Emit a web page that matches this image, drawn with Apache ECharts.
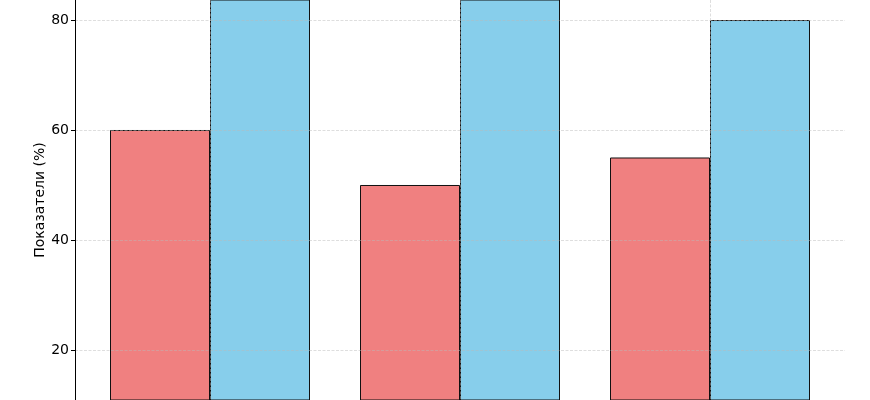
<!DOCTYPE html>
<html>
<head>
<meta charset="utf-8">
<script src="https://cdn.jsdelivr.net/npm/echarts@6/dist/echarts.min.js"></script>
<style>
  html, body { margin: 0; padding: 0; background: #fff; }
  #chart { width: 870px; height: 400px; }
</style>
</head>
<body>
<div id="chart"></div>
<script>
  // group positions on the x axis (0, 1, 2) and values per group
  var categories = ['Группа 1', 'Группа 2', 'Группа 3']
  var redValues = [60, 50, 55]
  var blueValues = [85, 90, 80]
  var yTicks = [20, 40, 60, 80]

  var chart = echarts.init(document.getElementById('chart'))

  var gridLine = {
    show: true,
    lineStyle: { color: 'rgba(185,185,185,0.6)', type: [3, 1.5], width: 0.8 },
    showMinLine: false,
    showMaxLine: false,
  }

  var option = {
    backgroundColor: '#fff',
    animation: false,
    textStyle: { fontFamily: 'DejaVu Sans' },
    grid: { left: 75, right: 25, top: 0, bottom: 0, outerBoundsMode: 'none', containLabel: false },
    xAxis: {
      type: 'value',
      min: -0.54,
      max: 2.54,
      splitNumber: 3,
      z: 3,
      axisLine: { show: false },
      axisTick: { show: false },
      axisLabel: {
        show: false,
        formatter: function (v) { return categories[v] || '' },
      },
      splitLine: gridLine,
    },
    yAxis: {
      type: 'value',
      min: 10.9,
      max: 83.64,
      splitNumber: 4,
      z: 3,
      name: 'Показатели (%)',
      nameLocation: 'middle',
      nameGap: 28,
      nameMoveOverlap: false,
      nameTextStyle: { fontSize: 14, color: '#000', fontFamily: 'DejaVu Sans' },
      axisLine: { show: true, onZero: false, lineStyle: { color: '#000', width: 1 } },
      axisTick: { show: true, inside: false, length: 4, lineStyle: { color: '#000' } },
      axisLabel: {
        fontSize: 14,
        color: '#000',
        margin: 6,
        showMinLabel: false,
        showMaxLabel: false,
        formatter: function (v) { return yTicks.indexOf(v) >= 0 ? String(v) : '' },
      },
      splitLine: gridLine,
    },
    series: [
      {
        name: 'red',
        type: 'bar',
        barWidth: 100,
        barGap: '0%',
        data: redValues.map(function (v, i) { return [i, v] }),
        itemStyle: { color: '#F08080', borderColor: '#111', borderWidth: 1 },
      },
      {
        name: 'blue',
        type: 'bar',
        barWidth: 100,
        barGap: '0%',
        data: blueValues.map(function (v, i) { return [i, v] }),
        itemStyle: { color: '#87CEEB', borderColor: '#111', borderWidth: 1 },
      },
    ],
  }
  chart.setOption(option)
</script>
</body>
</html>
